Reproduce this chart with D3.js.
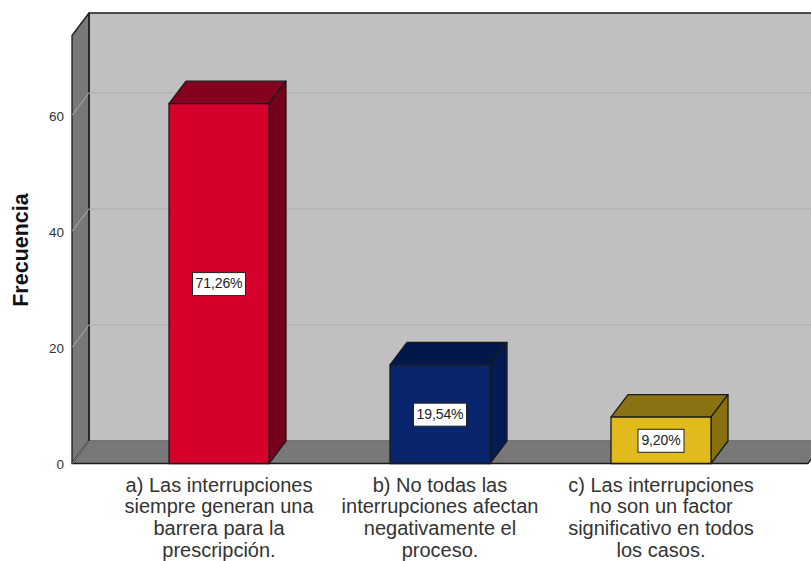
<!DOCTYPE html>
<html><head><meta charset="utf-8">
<script src="https://cdn.jsdelivr.net/npm/d3@7/dist/d3.min.js"></script>
<style>html,body{margin:0;padding:0;background:#fff;overflow:hidden}svg{display:block;font-family:"Liberation Sans",Arial,sans-serif}</style>
</head><body><svg id="c" width="811" height="561"></svg>
<script>
const categories = ["a","b","c"];
const values = [62,17,8];
const percentLabels = ["71,26%","19,54%","9,20%"];
const categoryLines = [
 ["a) Las interrupciones","siempre generan una","barrera para la","prescripción."],
 ["b) No todas las","interrupciones afectan","negativamente el","proceso."],
 ["c) Las interrupciones","no son un factor","significativo en todos","los casos."]];
const yTicks = [0,20,40,60];
const frontColors = ["#d6002d","#08256e","#e1bb1c"];
const topColors = ["#85001f","#04174a","#8a7212"];
const sideColors = ["#76001c","#041a52","#877010"];

const svg = d3.select("#c");
const dx = 17, dy = -22.5, barW = 100;
const y = d3.scaleLinear().domain([0,73.75]).range([463.5,35.5]);
const x = d3.scalePoint().domain(categories).range([219,661]);
const left = 72, right = 808;
const line = d3.line();
const poly = (pts,fill,stroke="#1a1a1a") => svg.append("path").attr("d",line(pts)+"Z").attr("fill",fill).attr("stroke",stroke).attr("stroke-width",1.3).attr("stroke-linejoin","round");

// back wall, side wall, floor
poly([[left+dx,y(73.75)+dy],[right+dx+5,y(73.75)+dy],[right+dx+5,y(0)+dy],[left+dx,y(0)+dy]],"#c0c0c0");
poly([[left,y(73.75)],[left+dx,y(73.75)+dy],[left+dx,y(0)+dy],[left,y(0)]],"#787878");
poly([[left,y(0)],[left+dx,y(0)+dy],[right+dx,y(0)+dy],[right,y(0)]],"#787878");
svg.append("line").attr("x1",left+dx).attr("x2",right+dx).attr("y1",y(0)+dy).attr("y2",y(0)+dy).attr("stroke","#747474").attr("stroke-width",2);
svg.append("line").attr("x1",left+dx).attr("x2",left+dx).attr("y1",y(73.75)+dy).attr("y2",y(0)+dy).attr("stroke","#222").attr("stroke-width",1.3);
svg.append("line").attr("x1",left).attr("x2",left+dx).attr("y1",y(0)).attr("y2",y(0)+dy).attr("stroke","#9a9a9a").attr("stroke-width",1);

// gridlines through wall and back
yTicks.slice(1).forEach(t=>{
  svg.append("path").attr("fill","none").attr("stroke","#aeaeae").attr("stroke-width",1)
    .attr("d",line([[left,y(t)],[left+dx,y(t)+dy],[right+dx+5,y(t)+dy]]));
});

// y axis labels
svg.selectAll(".tick").data(yTicks).join("text").attr("class","tick")
  .attr("x",64).attr("y",d=>y(d)+2).attr("text-anchor","end").attr("dominant-baseline","middle")
  .attr("font-size",13.5).attr("fill","#333").text(d=>d);

svg.append("text").attr("transform","translate(28,250) rotate(-90)").attr("text-anchor","middle")
  .attr("font-size",21.5).attr("font-weight","bold").attr("fill","#111").text("Frecuencia");

// bars
categories.forEach((c,i)=>{
  const x0 = x(c)-barW/2, x1 = x0+barW, yt = y(values[i]), yb = y(0);
  poly([[x0,yt],[x0+dx,yt+dy],[x1+dx,yt+dy],[x1,yt]],topColors[i]);
  poly([[x1,yt],[x1+dx,yt+dy],[x1+dx,yb+dy],[x1,yb]],sideColors[i]);
  poly([[x0,yt],[x1,yt],[x1,yb],[x0,yb]],frontColors[i]);
  const cy = (yt+yb)/2, w = percentLabels[i].length>5?53:46, h = 23;
  svg.append("rect").attr("x",x(c)-w/2).attr("y",cy-h/2+0.5).attr("width",w).attr("height",h)
    .attr("fill","#fff").attr("stroke","#222").attr("stroke-width",1);
  svg.append("text").attr("x",x(c)).attr("y",cy+1).attr("text-anchor","middle").attr("dominant-baseline","middle")
    .attr("font-size",14).attr("letter-spacing",-0.1).attr("fill","#222").text(percentLabels[i]);
  categoryLines[i].forEach((t,j)=>{
    svg.append("text").attr("x",x(c)).attr("y",491.5+j*21.7).attr("text-anchor","middle")
      .attr("font-size",20).attr("fill","#333").text(t);
  });
});
</script></body></html>
